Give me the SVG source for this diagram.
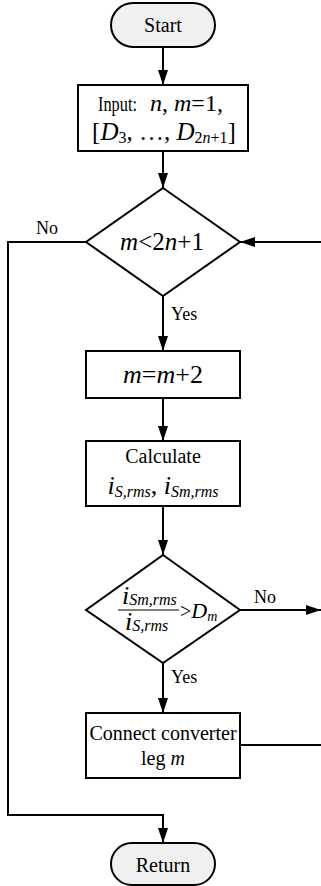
<svg xmlns="http://www.w3.org/2000/svg" width="321" height="886" viewBox="0 0 321 886">
<style>
svg text{font-family:'Liberation Serif','Times New Roman',serif !important;fill:#000}
.t{font-size:20px;text-anchor:middle}
.lb{font-size:18px}
.i{font-style:italic}
.shape{fill:#fff;stroke:#000;stroke-width:2}
.term{fill:#f0f0f0;stroke:#000;stroke-width:2}
.c{fill:none;stroke:#000;stroke-width:2}
</style>
<defs>
<marker id="ah" viewBox="0 0 15 10" refX="15" refY="5" markerWidth="15" markerHeight="10" markerUnits="userSpaceOnUse" orient="auto">
<path d="M0,0 L15,5 L0,10 z" fill="#000"/>
</marker>
</defs>
<g id="connectors">
<path class="c" d="M163,47 V85" marker-end="url(#ah)"/>
<path class="c" d="M163,151 V188" marker-end="url(#ah)"/>
<path class="c" d="M163,296 V351" marker-end="url(#ah)"/>
<path class="c" d="M163,398 V441" marker-end="url(#ah)"/>
<path class="c" d="M163,506 V555" marker-end="url(#ah)"/>
<path class="c" d="M163,663 V713" marker-end="url(#ah)"/>
<path class="c" d="M86,242 H8 V815 H163 V843" marker-end="url(#ah)"/>
<path class="c" d="M321,242 H240" marker-end="url(#ah)"/>
<path class="c" d="M240,610 H321" marker-end="url(#ah)"/>
<path class="c" d="M240,745 H321"/>
<text class="lb" x="36" y="234">No</text>
<text class="lb" x="171" y="320">Yes</text>
<text class="lb" x="254" y="603">No</text>
<text class="lb" x="171" y="683">Yes</text>
</g>
<g id="start">
<rect class="term" x="111" y="3" width="104" height="44" rx="22"/>
<text class="t" x="163" y="32">Start</text>
</g>
<g id="input">
<rect class="shape" x="78" y="85" width="170" height="66"/>
<text x="98" y="111" font-size="22" textLength="39" lengthAdjust="spacingAndGlyphs">Input:</text>
<text x="150" y="111" font-size="24"><tspan class="i">n</tspan>, <tspan class="i">m</tspan>=1,</text>
<text x="164" y="140" text-anchor="middle" font-size="25">[<tspan class="i">D</tspan><tspan font-size="16" dy="3">3</tspan><tspan dy="-3">, …, </tspan><tspan class="i">D</tspan><tspan font-size="16" dy="3">2<tspan class="i">n</tspan>+1</tspan><tspan dy="-3">]</tspan></text>
</g>
<g id="cond1">
<polygon class="shape" points="163,188 240,242 163,296 86,242"/>
<text x="162" y="250" text-anchor="middle" font-size="25"><tspan class="i">m</tspan>&lt;2<tspan class="i">n</tspan>+1</text>
</g>
<g id="increment">
<rect class="shape" x="86" y="351" width="154" height="47"/>
<text x="163" y="383" text-anchor="middle" font-size="26"><tspan class="i">m</tspan>=<tspan class="i">m</tspan>+2</text>
</g>
<g id="calculate">
<rect class="shape" x="86" y="441" width="154" height="65"/>
<text class="t" x="163" y="463">Calculate</text>
<text x="163" y="494" text-anchor="middle" font-size="26"><tspan class="i">i</tspan><tspan class="i" font-size="16" dy="3">S,rms</tspan><tspan dy="-3">, </tspan><tspan class="i">i</tspan><tspan class="i" font-size="16" dy="3">Sm,rms</tspan></text>
</g>
<g id="cond2">
<polygon class="shape" points="163,555 240,610 163,663 86,610"/>
<text x="122" y="604" font-size="26" class="i">i<tspan font-size="16" dy="1">Sm,rms</tspan></text>
<line x1="118" y1="610" x2="179" y2="610" stroke="#000" stroke-width="1.2"/>
<text x="125" y="630" font-size="26" class="i">i<tspan font-size="16" dy="1">S,rms</tspan></text>
<text x="180" y="618" font-size="20">&gt;<tspan class="i" font-size="22">D</tspan><tspan class="i" font-size="14" dy="3">m</tspan></text>
</g>
<g id="connect">
<rect class="shape" x="86" y="713" width="154" height="65"/>
<text class="t" x="163" y="740">Connect converter</text>
<text class="t" x="163" y="765">leg <tspan class="i">m</tspan></text>
</g>
<g id="return">
<rect class="term" x="111" y="843" width="104" height="42" rx="21"/>
<text class="t" x="163" y="872">Return</text>
</g>
</svg>
